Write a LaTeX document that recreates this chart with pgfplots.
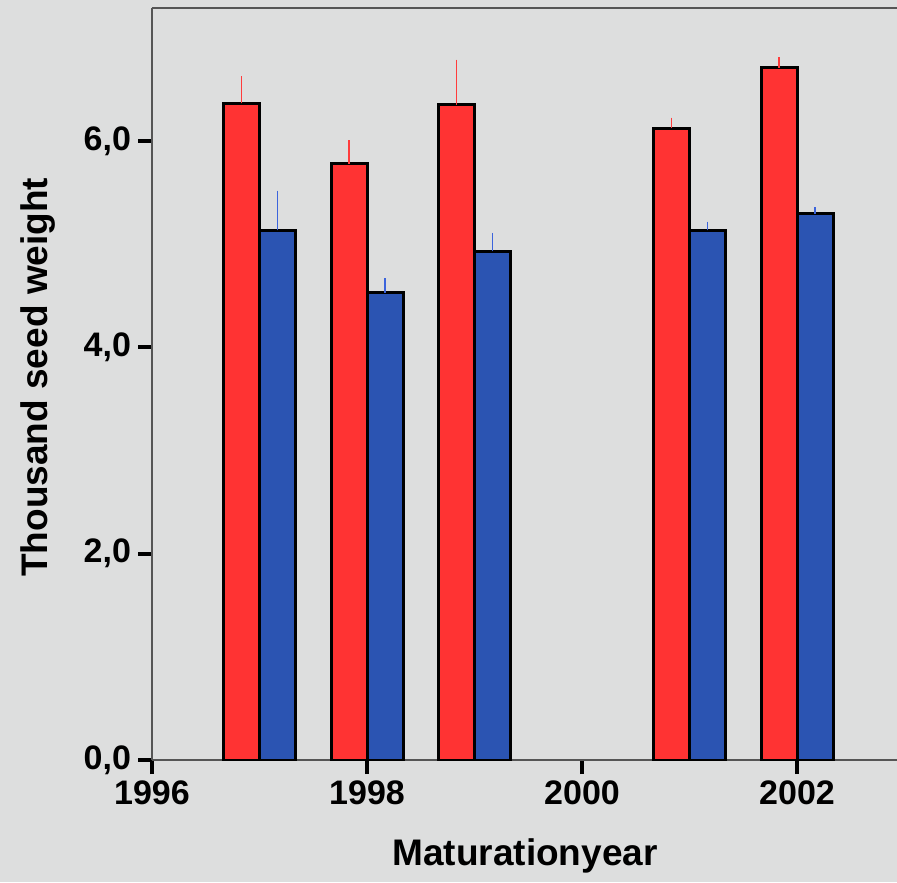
\documentclass[border=0pt]{standalone}
\usepackage{fontspec}
\setmainfont{Liberation Sans}
\usepackage{pgfplots}
\pgfplotsset{compat=1.18}
\definecolor{bg}{RGB}{221,222,222}
\definecolor{barred}{RGB}{255,51,51}
\definecolor{barblue}{RGB}{43,84,178}
\definecolor{errred}{RGB}{255,60,60}
\definecolor{errblue}{RGB}{60,100,220}
\definecolor{axgray}{RGB}{85,85,85}

\pgfplotstableread{
x     y     e
1997  6.365 0.265
1998  5.78  0.227
1999  6.35  0.44
2001  6.126 0.10
2002  6.71  0.103
}\redtab
\pgfplotstableread{
x     y     e
1997  5.135 0.385
1998  4.528 0.142
1999  4.93  0.18
2001  5.135 0.083
2002  5.296 0.064
}\bluetab

\begin{document}
\begin{tikzpicture}
\fill[bg] (-76pt,-61pt) rectangle (372.5pt,380pt);
\begin{axis}[
  at={(0,0)}, anchor=south west,
  scale only axis, width=372.5pt, height=376pt,
  xmin=1996, xmax=2002.93, ymin=0, ymax=7.29,
  axis x line*=bottom, axis y line*=left,
  axis line style={axgray, line width=0.6pt, -},
  ybar=0pt, bar width=18pt,
  xtick={1996,1998,2000,2002}, ytick={0,2,4,6},
  tick align=outside, major tick length=7pt,
  tick style={black, line width=2pt},
  /pgf/number format/assume math mode=true,
  tick label style={font=\bfseries\fontsize{17}{20}\selectfont},
  xticklabel style={/pgf/number format/1000 sep={}},
  yticklabel style={/pgf/number format/.cd, fixed, fixed zerofill, precision=1, use comma},
  label style={font=\bfseries\fontsize{18.5}{22}\selectfont},
  xlabel={Maturationyear},
  ylabel={Thousand seed weight},
  xlabel style={at={(axis description cs:0.5007,-0.127)}, anchor=center},
  ylabel style={at={(axis description cs:-0.153,0.509)}, anchor=center},
]
\draw[axgray, line width=0.6pt] (rel axis cs:0,1) -- (rel axis cs:1,1);
\addplot[fill=barred, draw=black, line width=1.5pt,
  error bars/.cd, y dir=plus, y explicit, error mark=none,
  error bar style={line width=0.8pt, draw=errred}]
  table[x=x, y=y, y error=e] {\redtab};
\addplot[fill=barblue, draw=black, line width=1.5pt,
  error bars/.cd, y dir=plus, y explicit, error mark=none,
  error bar style={line width=0.8pt, draw=errblue}]
  table[x=x, y=y, y error=e] {\bluetab};
\end{axis}
\pgfresetboundingbox
\useasboundingbox (-76pt,-61pt) rectangle (372.5pt,380pt);
\end{tikzpicture}
\end{document}
